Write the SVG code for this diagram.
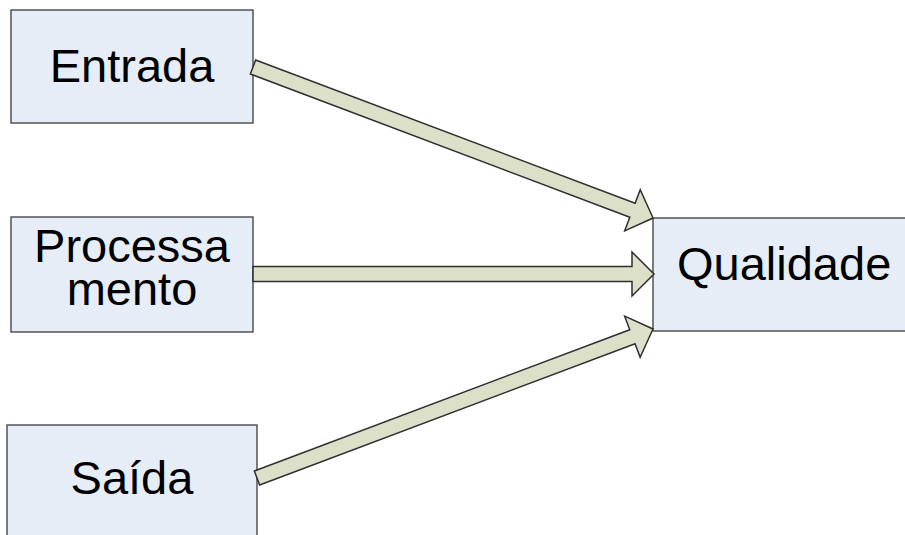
<svg xmlns="http://www.w3.org/2000/svg" width="905" height="535" viewBox="0 0 905 535">
  <style>
    .box { fill: #e7edf7; stroke: #3a3a3a; stroke-width: 1.3; }
    .lbl { font-family: "Liberation Sans", Arial, sans-serif; font-size: 47px; fill: #000; }
    .arrow { fill: #dde0c9; stroke: #2e2e2e; stroke-width: 1.5; stroke-linejoin: miter; }
  </style>
  <rect width="905" height="535" fill="#ffffff"/>

  <g id="entrada">
    <rect class="box" x="11" y="10" width="242" height="113"/>
    <text class="lbl" x="132" y="82" text-anchor="middle">Entrada</text>
  </g>

  <g id="processamento">
    <rect class="box" x="11" y="217" width="242" height="115"/>
    <text class="lbl" x="132" y="262" text-anchor="middle">Processa</text>
    <text class="lbl" x="132" y="305" text-anchor="middle">mento</text>
  </g>

  <g id="saida">
    <rect class="box" x="7" y="425" width="250" height="125"/>
    <text class="lbl" x="132" y="494" text-anchor="middle">Saída</text>
  </g>

  <g id="qualidade">
    <rect class="box" x="653" y="218" width="262" height="113"/>
    <text class="lbl" x="677" y="280">Qualidade</text>
  </g>

  <g id="connectors">
    <!-- block arrow: shaft half-width 7.5, head half-width 22, head length 22 -->
    <polygon class="arrow" transform="translate(253,67) rotate(20.68)"
             points="0,-7.5 405.6,-7.5 405.6,-22 427.6,0 405.6,22 405.6,7.5 0,7.5"/>
    <polygon class="arrow" transform="translate(253,274)"
             points="0,-7.5 379,-7.5 379,-22 401,0 379,22 379,7.5 0,7.5"/>
    <polygon class="arrow" transform="translate(257,478) rotate(-20.62)"
             points="0,-7.5 401.1,-7.5 401.1,-22 423.1,0 401.1,22 401.1,7.5 0,7.5"/>
  </g>
</svg>
